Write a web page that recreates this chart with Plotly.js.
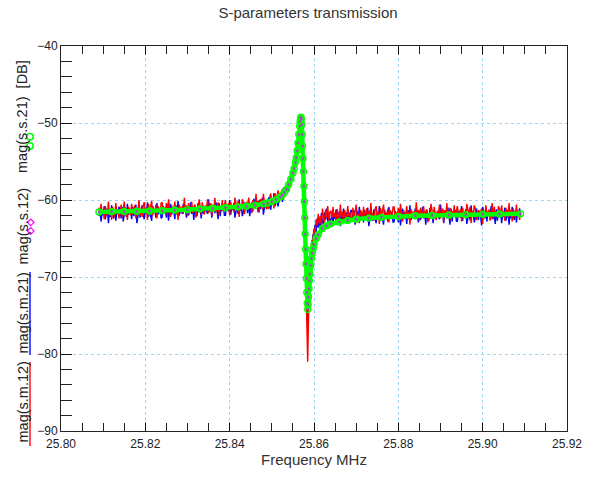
<!DOCTYPE html>
<html>
<head>
<meta charset="utf-8">
<script src="https://cdn.plot.ly/plotly-3.0.1.min.js"></script>
<style>html,body{margin:0;padding:0;background:#fff;}#chart{width:592px;height:477px;}</style>
</head>
<body>
<div id="chart"></div>
<script>
// Measured sweep: start frequency and step (MHz)
const measStartMHz = 25.809;
const measStepMHz = 0.00025;

// mag(s.m.12) measured, dB
const magSM12 = [
-61.0,-62.0,-60.5,-61.8,-61.3,-62.5,-60.8,-61.5,-62.1,-60.2,-61.9,-61.1,-62.6,-60.9,-61.4,-62.2,-60.4,-61.7,-61.2,-62.4,
-61.8,-60.6,-62.2,-61.1,-60.2,-61.7,-61.4,-62.6,-60.9,-61.2,-62.0,-60.5,-61.9,-61.3,-60.7,-62.4,-61.0,-61.6,-60.0,-62.1,
-61.2,-62.2,-60.7,-60.3,-61.7,-61.0,-62.6,-60.5,-61.5,-60.9,-60.1,-62.0,-61.1,-61.6,-60.6,-62.4,-60.8,-61.3,-61.8,-60.4,
-60.3,-61.8,-61.0,-61.4,-60.4,-62.0,-59.9,-61.1,-62.2,-60.7,-61.6,-61.2,-60.2,-61.9,-60.9,-62.6,-60.6,-61.0,-61.5,-60.8,
-61.8,-59.7,-61.3,-60.7,-62.1,-60.4,-61.0,-61.6,-60.2,-61.7,-60.9,-60.6,-62.3,-61.1,-61.4,-59.9,-60.8,-61.9,-60.3,-61.5,
-61.9,-60.7,-61.2,-59.9,-61.7,-60.9,-60.4,-62.1,-60.6,-61.4,-59.7,-61.6,-61.0,-60.3,-62.0,-60.8,-61.3,-60.0,-61.5,-60.5,
-60.0,-61.4,-60.9,-60.4,-62.0,-60.2,-61.2,-60.7,-61.6,-59.7,-60.5,-61.1,-60.1,-62.2,-60.6,-61.3,-59.9,-60.3,-61.8,-60.8,
-60.2,-61.2,-59.7,-61.0,-60.5,-61.7,-60.0,-60.7,-61.1,-59.2,-60.9,-60.1,-61.6,-59.9,-60.4,-61.2,-59.2,-60.5,-60.0,-61.2,
-60.2,-61.15,-59.6,-59.15,-60.5,-59.75,-61.1,-59.1,-60.05,-59.35,-58.75,-60.3,-59.3,-59.7,-58.55,-60.0,-58.4,-58.7,-59.0,-57.6,
-57.6,-58.3,-56.8,-57.2,-55.9,-56.4,-55.0,-55.3,-53.2,-52.6,-50.6,-49.8,-49.7,-52.8,-56.8,-61.9,-68.5,-75.0,-81.0,-74.0,
-70.5,-67.7,-65.3,-65.1,-63.7,-64.3,-62.5,-63.3,-61.8,-63.15,-62.1,-63.3,-61.1,-62.15,-62.9,-61.25,-62.3,-60.8,-62.65,-61.6,
-61.4,-62.4,-60.9,-62.2,-61.7,-62.9,-61.2,-61.9,-62.5,-60.6,-62.3,-61.5,-63.0,-61.3,-61.8,-62.6,-60.8,-62.1,-61.6,-62.8,
-62.2,-61.0,-62.6,-61.5,-60.6,-62.1,-61.8,-63.0,-61.3,-61.6,-62.4,-60.9,-62.3,-61.7,-61.1,-62.8,-61.4,-62.0,-60.4,-62.5,
-61.7,-62.7,-61.2,-60.8,-62.2,-61.5,-63.1,-61.0,-62.0,-61.4,-60.6,-62.5,-61.6,-62.1,-61.1,-62.9,-61.3,-61.8,-62.3,-60.9,
-60.9,-62.4,-61.6,-62.0,-61.0,-62.6,-60.5,-61.7,-62.8,-61.3,-62.2,-61.8,-60.8,-62.5,-61.5,-63.2,-61.2,-61.6,-62.1,-61.4,
-62.4,-60.3,-61.9,-61.3,-62.7,-61.0,-61.6,-62.2,-60.8,-62.3,-61.5,-61.2,-62.9,-61.7,-62.0,-60.5,-61.4,-62.5,-60.9,-62.1,
-62.6,-61.4,-61.9,-60.6,-62.4,-61.6,-61.1,-62.8,-61.3,-62.1,-60.4,-62.3,-61.7,-61.0,-62.7,-61.5,-62.0,-60.7,-62.2,-61.2,
-60.8,-62.2,-61.7,-61.2,-62.8,-61.0,-62.0,-61.5,-62.4,-60.5,-61.3,-61.9,-60.9,-63.0,-61.4,-62.1,-60.7,-61.1,-62.6,-61.6,
-61.3,-62.0,-61.5,-61.1,-63.1,-61.4,-62.4,-60.7,-61.7,-62.1,-61.2,-62.7,-61.6,-60.4,-62.5,-60.9,-61.9,-61.5,-62.3,-60.8,
-61.2,-62.2,-60.7,-62.0,-61.5,-62.7,-61.0,-61.7,-62.3,-60.4,-62.1,-61.3,-62.8,-61.1,-61.6,-62.4,-60.6,-61.9,-61.4,-62.6,-61.5
];

// mag(s.m.21) measured, dB
const magSM21 = [
-62.1,-61.3,-62.8,-61.4,-62.0,-60.8,-62.5,-61.7,-61.1,-63.0,-61.4,-62.2,-60.7,-61.9,-62.4,-61.2,-62.7,-61.5,-61.8,-60.9,
-61.1,-62.4,-60.9,-62.8,-61.7,-61.0,-62.2,-60.5,-61.9,-61.6,-61.2,-62.5,-60.9,-62.1,-61.3,-60.6,-63.0,-61.8,-61.1,-62.3,
-61.6,-60.7,-62.0,-62.5,-61.1,-61.8,-60.3,-62.2,-61.3,-61.9,-62.7,-60.8,-61.7,-61.2,-62.3,-60.4,-61.9,-61.5,-61.0,-62.4,
-62.2,-60.8,-61.6,-61.2,-62.3,-60.6,-62.7,-61.5,-60.5,-61.9,-61.0,-61.4,-62.5,-60.7,-61.7,-60.1,-62.0,-61.6,-61.1,-61.8,
-60.5,-61.4,-61.1,-62.3,-60.8,-62.0,-61.5,-60.3,-61.8,-61.0,-62.6,-60.7,-61.3,-62.1,-60.4,-61.6,-61.0,-62.4,-60.9,-61.7,
-61.6,-60.9,-61.4,-61.8,-59.9,-61.5,-60.5,-62.3,-61.2,-60.8,-61.7,-60.3,-61.3,-62.5,-60.4,-62.1,-61.0,-61.4,-60.6,-62.0,
-62.0,-60.6,-61.1,-61.5,-60.0,-61.9,-60.8,-61.3,-60.4,-62.3,-61.5,-60.9,-61.8,-59.9,-61.4,-60.7,-62.1,-61.6,-60.3,-61.2,
-60.4,-61.7,-60.2,-62.1,-61.0,-60.3,-61.5,-59.8,-61.0,-60.7,-60.3,-61.6,-60.0,-61.2,-60.4,-59.7,-61.9,-60.7,-60.0,-61.2,
-60.6,-59.65,-60.9,-61.25,-59.9,-60.55,-59.1,-60.8,-59.85,-60.35,-60.85,-59.1,-59.9,-59.3,-60.25,-58.4,-59.5,-58.9,-58.2,-59.0,
-58.4,-57.3,-57.8,-56.5,-56.9,-55.6,-55.9,-54.3,-53.9,-52.0,-51.2,-49.9,-49.9,-52.4,-56.0,-61.5,-66.8,-72.0,-76.8,-71.2,
-69.4,-67.0,-66.6,-64.5,-64.8,-63.2,-64.2,-62.4,-63.6,-62.45,-63.6,-61.7,-62.8,-63.25,-61.6,-62.55,-61.1,-62.8,-61.75,-63.2,
-62.5,-61.7,-63.2,-61.8,-62.4,-61.2,-62.9,-62.1,-61.5,-63.4,-61.8,-62.6,-61.1,-62.3,-62.8,-61.6,-63.1,-61.9,-62.2,-61.3,
-61.5,-62.8,-61.3,-63.2,-62.1,-61.4,-62.6,-60.9,-62.3,-62.0,-61.6,-62.9,-61.3,-62.5,-61.7,-61.0,-63.4,-62.2,-61.5,-62.7,
-62.1,-61.2,-62.5,-63.0,-61.6,-62.3,-60.8,-62.7,-61.8,-62.4,-63.2,-61.3,-62.2,-61.7,-62.8,-60.9,-62.4,-62.0,-61.5,-62.9,
-62.8,-61.4,-62.2,-61.8,-62.9,-61.2,-63.3,-62.1,-61.1,-62.5,-61.6,-62.0,-63.1,-61.3,-62.3,-60.7,-62.6,-62.2,-61.7,-62.4,
-61.1,-62.0,-61.7,-62.9,-61.4,-62.6,-62.1,-60.9,-62.4,-61.6,-63.2,-61.3,-61.9,-62.7,-61.0,-62.2,-61.6,-63.0,-61.5,-62.3,
-62.3,-61.6,-62.1,-62.5,-60.6,-62.2,-61.2,-63.0,-61.9,-61.5,-62.4,-61.0,-62.0,-63.2,-61.1,-62.8,-61.7,-62.1,-61.3,-62.7,
-62.8,-61.4,-61.9,-62.3,-60.8,-62.7,-61.6,-62.1,-61.2,-63.1,-62.3,-61.7,-62.6,-60.7,-62.2,-61.5,-62.9,-62.4,-61.1,-62.0,
-62.6,-61.4,-62.1,-63.3,-60.9,-61.6,-62.4,-61.2,-62.8,-61.5,-61.9,-62.2,-60.8,-62.5,-61.3,-62.0,-63.1,-61.2,-62.7,-61.4,
-62.3,-61.5,-63.0,-61.6,-62.2,-61.0,-62.7,-61.9,-61.3,-63.2,-61.6,-62.4,-60.9,-62.1,-62.6,-61.4,-62.9,-61.7,-62.0,-61.1,-62.1
];

// Simulated (model) frequencies, MHz
const simFreq = [25.809,25.812,25.815,25.818,25.821,25.824,25.827,25.830,25.833,25.836,25.839,25.842,25.844,25.846,25.848,25.849,25.850,25.851,25.852,25.8525,25.853,25.8535,25.854,25.8545,25.855,25.8553,25.8556,25.8558,25.856,25.8562,25.8564,25.8566,25.8567,25.8568,25.8569,25.8570,25.8571,25.8572,25.8573,25.8574,25.8575,25.8576,25.8577,25.8578,25.8579,25.8580,25.8581,25.8582,25.8583,25.8584,25.8585,25.8586,25.8587,25.8588,25.8589,25.8590,25.8592,25.8594,25.8596,25.8598,25.8600,25.8605,25.861,25.862,25.863,25.864,25.866,25.868,25.870,25.873,25.876,25.880,25.884,25.888,25.892,25.896,25.900,25.904,25.909];

// mag(s.s.21) simulated, dB
const magSS21 = [-61.55,-61.52,-61.5,-61.47,-61.42,-61.38,-61.3,-61.25,-61.15,-61.08,-61.0,-60.9,-60.82,-60.7,-60.5,-60.38,-60.2,-59.95,-59.6,-59.35,-59.0,-58.6,-58.0,-57.3,-56.5,-55.9,-55.1,-54.5,-53.6,-52.6,-51.5,-50.4,-49.8,-49.4,-49.25,-49.5,-50.2,-51.5,-53.0,-54.6,-56.3,-58.2,-60.2,-62.3,-64.4,-66.4,-68.3,-70.2,-72.0,-73.4,-74.2,-73.6,-72.6,-71.5,-70.5,-69.6,-68.5,-67.6,-66.9,-66.3,-65.8,-65.0,-64.5,-63.7,-63.35,-63.1,-62.85,-62.65,-62.5,-62.35,-62.25,-62.15,-62.05,-62.0,-61.95,-61.9,-61.85,-61.82,-61.8];

// mag(s.s.12) simulated, dB (reciprocal: same as s.s.21)
const magSS12 = [-61.55,-61.52,-61.5,-61.47,-61.42,-61.38,-61.3,-61.25,-61.15,-61.08,-61.0,-60.9,-60.82,-60.7,-60.5,-60.38,-60.2,-59.95,-59.6,-59.35,-59.0,-58.6,-58.0,-57.3,-56.5,-55.9,-55.1,-54.5,-53.6,-52.6,-51.5,-50.4,-49.8,-49.4,-49.25,-49.5,-50.2,-51.5,-53.0,-54.6,-56.3,-58.2,-60.2,-62.3,-64.4,-66.4,-68.3,-70.2,-72.0,-73.4,-74.2,-73.6,-72.6,-71.5,-70.5,-69.6,-68.5,-67.6,-66.9,-66.3,-65.8,-65.0,-64.5,-63.7,-63.35,-63.1,-62.85,-62.65,-62.5,-62.35,-62.25,-62.15,-62.05,-62.0,-61.95,-61.9,-61.85,-61.82,-61.8];

const xTickVals = [25.80,25.82,25.84,25.86,25.88,25.90,25.92];
const xTickText = ['25.80','25.82','25.84','25.86','25.88','25.90','25.92'];
const yTickVals = [-90,-80,-70,-60,-50,-40];

const FONT = 'Liberation Sans, Arial, sans-serif';

const traces = [
  {type:'scatter', mode:'lines', name:'mag(s.m.21)', x0:measStartMHz, dx:measStepMHz, y:magSM21,
   line:{color:'#0000ff', width:1.4}},
  {type:'scatter', mode:'lines', name:'mag(s.m.12)', x0:measStartMHz, dx:measStepMHz, y:magSM12,
   line:{color:'#ff0000', width:1.4}},
  {type:'scatter', mode:'lines+markers', name:'mag(s.s.21)', x:simFreq, y:magSS21,
   line:{color:'#00ff00', width:4.5},
   marker:{symbol:'circle-open', size:6, color:'#00ff00', line:{width:1.4, color:'#00ff00'}}},
  {type:'scatter', mode:'markers', name:'mag(s.s.12)', x:simFreq, y:magSS12,
   marker:{symbol:'diamond', size:2.5, color:'#b040d0'}}
];

// positions of the y-title legend glyphs (paper coords)
function px2x(p){return (p-61)/506;}
function px2y(p){return (431-p)/385;}
function diamond(cx, cy){
  const dx=3.3/506, dy=3.3/385;
  const x=px2x(cx), y=px2y(cy);
  return {type:'path', xref:'paper', yref:'paper',
    path:`M${x-dx},${y} L${x},${y+dy} L${x+dx},${y} L${x},${y-dy} Z`,
    line:{color:'#ff00ff', width:1.2}, fillcolor:'rgba(0,0,0,0)'};
}
function circ(cx, cy){
  const r=3.2;
  return {type:'circle', xref:'paper', yref:'paper',
    x0:px2x(cx-r), x1:px2x(cx+r), y0:px2y(cy+r), y1:px2y(cy-r),
    line:{color:'#00ff00', width:1.5}, fillcolor:'rgba(0,0,0,0)'};
}

const shapes = [
  {type:'line', xref:'paper', yref:'paper', x0:px2x(30), x1:px2x(30), y0:px2y(446), y1:px2y(362),
   line:{color:'rgb(255,80,80)', width:2}},
  {type:'line', xref:'paper', yref:'paper', x0:px2x(30), x1:px2x(30), y0:px2y(355), y1:px2y(272),
   line:{color:'rgb(80,80,255)', width:2}},
  diamond(30.7, 222.3), diamond(30.7, 231),
  circ(30, 136.7), circ(30, 146)
];

function ytitle(text, cy){
  return {xref:'paper', yref:'paper', x:px2x(22), y:px2y(cy), text:text, textangle:-90,
    showarrow:false, xanchor:'center', yanchor:'middle',
    font:{family:FONT, size:14.5, color:'#222'}};
}

const layout = {
  width:592, height:477,
  margin:{l:61, r:25, t:46, b:46, pad:0},
  paper_bgcolor:'#ffffff', plot_bgcolor:'#ffffff',
  showlegend:false,
  font:{family:FONT, color:'#222'},
  title:{text:'S-parameters transmission', font:{family:FONT, size:15, color:'#333'},
    x:308/592, xanchor:'center', y:1-13/477, yanchor:'middle'},
  xaxis:{range:[25.80,25.92], tickvals:xTickVals, ticktext:xTickText,
    showgrid:true, gridcolor:'#9fd4f2', gridwidth:1, griddash:'3px,3px',
    ticks:'inside', ticklen:9, tickcolor:'rgba(0,0,0,0.55)', tickwidth:1,
    showline:true, linecolor:'#222', linewidth:1, mirror:'allticks', zeroline:false,
    minor:{dtick:0.005, tick0:25.80, ticks:'inside', ticklen:8, tickcolor:'#222', tickwidth:1, showgrid:false},
    tickfont:{family:FONT, size:12, color:'#222'}, ticklabelstandoff:2,
    title:{text:'Frequency MHz', font:{family:FONT, size:15, color:'#333'}, standoff:4}},
  yaxis:{range:[-90,-40], tickvals:yTickVals,
    showgrid:true, gridcolor:'#9fd4f2', gridwidth:1, griddash:'3px,3px',
    ticks:'inside', ticklen:10, tickcolor:'rgba(0,0,0,0.55)', tickwidth:1,
    showline:true, linecolor:'#222', linewidth:1, mirror:true, zeroline:false,
    minor:{dtick:2, tick0:-90, ticks:'inside', ticklen:11, tickcolor:'#222', tickwidth:1, showgrid:false},
    tickfont:{family:FONT, size:12, color:'#222'}},
  shapes:shapes,
  annotations:[
    ytitle('mag(s.m.12)', 402.5),
    ytitle('mag(s.m.21)', 313.5),
    ytitle('mag(s.s.12)', 226.5),
    ytitle('mag(s.s.21)\u00a0\u00a0[DB]', 117)
  ]
};

Plotly.newPlot('chart', traces, layout, {displayModeBar:false, staticPlot:true});
</script>
</body>
</html>
